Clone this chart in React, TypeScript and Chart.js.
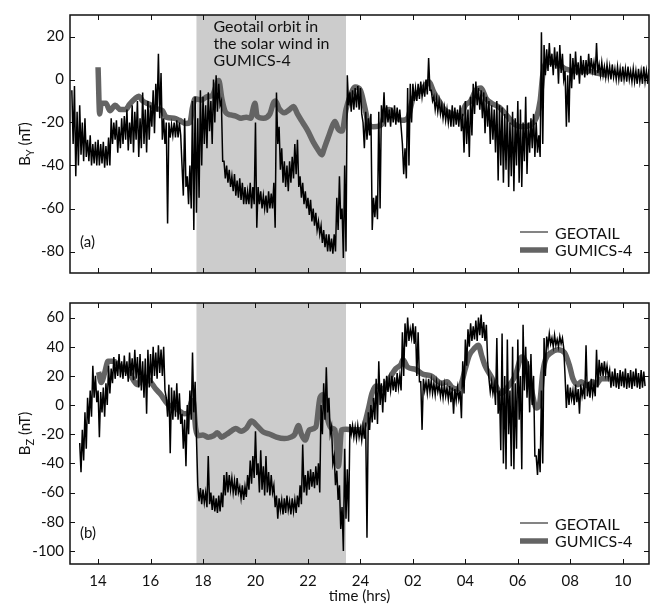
import React, { useEffect, useRef } from "react";
import { Chart, registerables } from "chart.js";

Chart.register(...registerables);

const FONT = "Lato, 'Open Sans', sans-serif";

// ---- axes / ticks ----
const X_MIN = 12.93;
const X_MAX = 35.0;
const X_TICKS = [14, 16, 18, 20, 22, 24, 26, 28, 30, 32, 34];
const X_TICK_LABELS = ["14", "16", "18", "20", "22", "24", "02", "04", "06", "08", "10"];
const BY_TICKS = [-80, -60, -40, -20, 0, 20];
const BZ_TICKS = [-100, -80, -60, -40, -20, 0, 20, 40, 60];
const SHADE_RANGE = [17.75, 23.45];
const ANNOTATION = ["Geotail orbit in", "the solar wind in", "GUMICS-4"];
const LEGEND_LABELS = ["GEOTAIL", "GUMICS-4"];

// ---- GEOTAIL (read every 0.1 h: upper / lower edge of the noisy trace) ----
const GEO_STEP = 0.1;
const GEO_BY_START = 13.0;
const GEO_BY_HI = [
  -5, -3, -15, -12, -20, -18, -28, -26, -30, -29,
  -28, -30, -29, -31, -27, -18, -20, -19, -22, -18,
  -17, -14, -20, -12, -15, -10, -18, -6, -14, -10,
  -12, -5, -2, 12, 3, -18, -20, -20, -21, -20,
  -19, -20, -40, -18, -45, -40, -10, -8, -18, -5,
  -8, -12, -6, -10, 0, 2, -2, -10, -38, -40,
  -42, -45, -44, -47, -46, -48, -50, -52, -48, -50,
  -20, -50, -52, -54, -54, -52, -53, -48, -6, -22,
  -32, -38, -40, -38, -36, -30, -28, -45, -48, -52,
  -55, -56, -60, -62, -66, -68, -70, -72, -72, -74,
  -72, -55, -45, -60, -40, 2, -6, -5, -4, -3,
  -4, -20, -15, -18, -16, -55, -54, -15, -12, -6,
  -12, -14, -13, -12, -13, -14, -30, -32, -4, -2,
  -2, -4, -2, -1, -3, 0, 10, -5, -8, -9,
  -10, -12, -13, -14, -14, -12, -13, -14, -12, -16,
  -10, -14, -8, -2, -1, -4, -5, -6, -8, -10,
  -12, -14, -10, -12, -13, -16, -12, -20, -15, -18,
  -10, -14, -20, -8, -20, -18, -16, -20, -26, 22,
  16, 14, 17, 12, 15, 13, 16, 12, 4, 2,
  12, 10, 13, 8, 11, 9, 9, 12, 10, 8,
  17, 7, 8, 6, 7, 6, 7, 5, 6, 5,
  6, 5, 6, 4, 5, 4, 5, 4, 6, 4,
  5,
];
const GEO_BY_LO = [
  -30, -45, -40, -35, -38, -36, -38, -40, -39, -40,
  -40, -39, -41, -40, -40, -30, -28, -34, -32, -30,
  -28, -33, -30, -34, -28, -36, -32, -30, -34, -28,
  -22, -25, -15, -18, -28, -30, -67, -27, -26, -27,
  -27, -26, -54, -50, -58, -60, -70, -62, -55, -40,
  -30, -32, -24, -30, -20, -15, -12, -38, -46, -48,
  -50, -52, -54, -55, -56, -58, -58, -58, -60, -58,
  -69, -58, -60, -60, -62, -60, -60, -69, -30, -42,
  -48, -50, -52, -48, -46, -44, -50, -55, -58, -60,
  -63, -66, -68, -70, -72, -76, -78, -80, -80, -81,
  -80, -70, -65, -83, -80, -12, -15, -14, -13, -14,
  -16, -32, -28, -26, -70, -64, -65, -60, -20, -22,
  -20, -22, -20, -21, -20, -22, -44, -46, -40, -20,
  -10, -10, -9, -8, -8, -7, -5, -10, -14, -15,
  -16, -18, -19, -20, -22, -22, -21, -22, -24, -34,
  -30, -36, -26, -16, -12, -14, -18, -25, -22, -30,
  -28, -34, -47, -40, -48, -42, -50, -45, -52, -40,
  -48, -50, -38, -44, -34, -32, -36, -34, -36, -30,
  2, 4, 6, 2, 5, -2, 3, 0, -22, -20,
  -4, 0, 2, -2, 2, 1, 2, 3, 4, 2,
  3, 2, 2, 1, 1, 0, 1, 0, 0, -1,
  0, -1, 0, -1, -1, -2, -1, -2, -1, -2,
  -1,
];

const GEO_BZ_START = 13.3;
const GEO_BZ_HI = [
  -26, -17, -5, 5, 10, 27, 20,
  10, 9, 12, 15, 27, 25, 33, 30, 35, 30,
  34, 30, 36, 32, 38, 33, 35, 30, 32, 38,
  35, 40, 36, 41, 38, 40, 5, 14, 12, 10,
  15, 8, -6, -10, 0, 10, 36, 16, -55, -57,
  -58, -60, -35, -60, -62, -64, -62, -60, -48, -46,
  -48, -50, -52, -50, -56, -55, -56, -48, -38, -35,
  -18, -40, -31, -42, -35, -46, -48, -55, -62, -64,
  -65, -64, -62, -66, -64, -65, -62, -55, -27, -48,
  -45, -44, -46, -42, -40, 0, 15, 26, 5, -15,
  -35, -45, -55, -70, -30, -44, -13, -14, -15, -14,
  -16, -15, -12, -5, 0, 5, 18, 30, 15, 18,
  20, 18, 20, 19, 22, 20, 50, 56, 60, 52,
  56, 54, 50, 16, 18, 16, 18, 17, 15, 16,
  14, 13, 14, 12, 13, 12, 11, 12, 10, 30,
  45, 52, 56, 54, 58, 60, 62, 57, 55, 18,
  16, 14, 46, 10, 49, 20, 45, 10, 40, 15,
  45, 20, 55, 40, 30, 35, 20, -35, -30, 10,
  46, 47, 49, 46, 48, 45, 47, 46, 20, 14,
  12, 10, 14, 11, 14, 12, 41, 16, 18, 14,
  38, 31, 29, 30, 27, 24, 23, 25, 22, 24,
  23, 25, 22, 24, 23, 25, 22, 24, 23,
];
const GEO_BZ_LO = [
  -46, -38, -30, -13, -8, 5, 2,
  -22, -5, -8, 0, 8, 15, 18, 20, 19, 18,
  20, 16, 20, 17, 18, 12, 10, 5, -6, 12,
  15, 20, 18, 22, 20, 10, -8, -33, -10, -8,
  -10, -13, -30, -42, -20, -10, -5, -22, -66, -68,
  -67, -70, -68, -72, -73, -74, -73, -70, -62, -60,
  -58, -60, -62, -60, -64, -65, -63, -58, -54, -50,
  -48, -60, -58, -62, -60, -62, -60, -70, -78, -72,
  -75, -74, -72, -75, -73, -74, -70, -68, -60, -62,
  -58, -56, -57, -55, -60, -20, -10, -5, -20, -40,
  -55, -65, -85, -100, -78, -80, -20, -22, -23, -22,
  -24, -23, -91, -17, -12, -10, -13, 0, -5, 2,
  9, 10, 10, 9, 12, 10, 20, 40, 44, 46,
  42, 20, 16, -17, 10, 8, 9, 8, 7, 9,
  6, 5, 6, 4, 2, -6, 3, 4, -9, 8,
  27, 40, 44, 45, 44, 48, 46, 44, 30, 9,
  8, 0, -6, -31, -40, -44, -20, -42, -44, -30,
  -10, -44, 10, 5, -5, 0, -35, -48, -46, -40,
  20, 40, 42, 40, 41, 40, 42, 39, -2, 0,
  4, 0, 2, -6, 6, 4, 6, 5, 7, 6,
  12, 20, 20, 21, 19, 12, 13, 12, 11, 13,
  12, 11, 12, 11, 13, 12, 11, 12, 13,
];

// ---- GUMICS-4 ----
const GUM_BY_T = [
  14.0, 14.06, 14.12, 14.3, 14.45, 14.65, 14.85, 15.05, 15.2, 15.4, 15.55, 15.7, 15.95, 16.2, 16.45,
  16.6, 16.9, 17.1, 17.35, 17.5, 17.6, 17.7, 17.95, 18.15, 18.35, 18.5, 18.6, 18.72, 18.85, 19.05,
  19.25, 19.45, 19.65, 19.82, 19.92, 19.98, 20.06, 20.3, 20.55, 20.68, 20.76, 20.9, 21.1, 21.3, 21.45,
  21.6, 21.8, 22.0, 22.2, 22.4, 22.52, 22.65, 22.8, 22.95, 23.03, 23.15, 23.3, 23.45, 23.6, 23.8,
  24.0, 24.15, 24.3, 24.5, 24.8, 24.95, 25.1, 25.3, 25.6, 25.8, 26.0, 26.2, 26.4, 26.6, 26.8,
  27.0, 27.2, 27.5, 27.8, 28.0, 28.2, 28.4, 28.6, 28.8, 29.0, 29.3, 29.6, 29.9, 30.2, 30.5,
  30.7, 30.85, 30.95, 31.1, 31.4, 31.8, 32.2, 32.6, 33.0, 33.4,
];
const GUM_BY = [
  5.7, -16, -11, -11, -14.5, -12, -14, -14, -11.5, -9, -7.8, -10, -11.5, -13.5, -14.5,
  -17.5, -18, -19, -20.5, -20, -13, -9, -9.5, -8, -7.5, -3, -0.5, -9, -15, -16.5,
  -17, -18, -17.5, -18, -13, -11, -17, -18, -16, -11, -10, -13.5, -15.5, -14, -12.5,
  -16, -20, -24, -29, -33, -35, -31, -26, -21, -19.5, -23, -24, -14, -8, -3.5,
  -5, -12, -20, -22, -21, -15, -14, -17, -19, -18, -9, -6, -4, -1, -6,
  -10, -14, -16, -17, -12, -10, -5, -4, -9, -11, -13, -17, -21, -22, -21,
  -18, -10, 2, 8, 8, 5, 4, 4, 3, 2,
];
const GUM_BZ_T = [
  14.02, 14.12, 14.25, 14.38, 14.6, 14.8, 15.0, 15.2, 15.35, 15.5, 15.65, 15.8, 16.0, 16.2, 16.4,
  16.55, 16.7, 16.9, 17.1, 17.3, 17.45, 17.55, 17.62, 17.72, 17.8, 18.0, 18.2, 18.4, 18.55, 18.7,
  18.9, 19.1, 19.25, 19.45, 19.65, 19.85, 20.05, 20.3, 20.55, 20.8, 21.1, 21.35, 21.5, 21.63, 21.75,
  21.89, 22.05, 22.3, 22.46, 22.58, 22.75, 22.9, 23.03, 23.16, 23.28, 23.45, 23.7, 24.0, 24.12, 24.3,
  24.44, 24.6, 24.9, 25.1, 25.35, 25.55, 25.62, 25.8, 26.1, 26.4, 26.7, 26.9, 27.1, 27.3, 27.5,
  27.7, 27.85, 28.0, 28.15, 28.35, 28.5, 28.62, 28.75, 29.0, 29.2, 29.35, 29.6, 29.9, 30.15, 30.35,
  30.55, 30.7, 30.82, 30.95, 31.05, 31.27, 31.52, 31.78, 31.97, 32.1, 32.29, 32.41, 32.67, 32.86, 32.98,
  33.17, 33.5,
];
const GUM_BZ = [
  22.7, 15.5, 22, 30, 30, 27, 25, 22, 17, 14, 18, 19, 16, 11, 7,
  3, 0, -1, -4, -6, -5, 2, 3, -16, -21, -20.5, -22, -21, -19, -22,
  -20, -17.5, -16, -18, -16, -11, -14, -18.5, -20, -22, -23, -22, -20, -14, -20,
  -24, -17, -15, 5, 7, -10, -16, -17, -42, -17, -16.5, -17, -17, -15, -3,
  8, 13, 11, 18, 25, 28, 31, 26, 24.5, 21, 20, 17, 15, 16, 12,
  11, 15, 25, 34, 39, 41, 34, 27, 19, 12, 8, 12, 20, 33, 27,
  8, -2, 0, 22, 31, 36, 38, 36, 27, 18, 14, 16, 13, 16, 14,
  18, 18,
];

type Pt = { x: number; y: number };

// Each 0.1 h bin is drawn as a swing from its upper to its lower edge.
function buildGeo(start: number, hi: number[], lo: number[]): Pt[] {
  const pts: Pt[] = [];
  const h = GEO_STEP / 2;
  for (let i = 0; i < hi.length; i++) {
    const t = start + i * GEO_STEP;
    pts.push({ x: t, y: hi[i] });
    pts.push({ x: t + h, y: lo[i] });
  }
  return pts;
}

function buildPairs(ts: number[], vs: number[]): Pt[] {
  return ts.map((t, i) => ({ x: t, y: vs[i] }));
}

interface PanelCfg {
  top: number;
  height: number;
  padTop: number;
  xAxisHeight: number;
  yMin: number;
  yMax: number;
  yTicks: number[];
  sub: string;
  letter: string;
  showX: boolean;
  annotate: boolean;
  geo: Pt[];
  gum: Pt[];
}

function makeDecor(cfg: PanelCfg) {
  return {
    id: "decor",
    beforeDatasetsDraw(chart: any) {
      const { ctx, chartArea: a, scales } = chart;
      const xs = scales.x;
      const ys = scales.y;
      ctx.save();
      const x0 = xs.getPixelForValue(SHADE_RANGE[0]);
      const x1 = xs.getPixelForValue(SHADE_RANGE[1]);
      ctx.fillStyle = "#cccccc";
      ctx.fillRect(x0, a.top, x1 - x0, a.bottom - a.top);
      ctx.strokeStyle = "#111";
      ctx.lineWidth = 1;
      const tl = 5;
      ctx.beginPath();
      for (const v of X_TICKS) {
        const px = Math.round(xs.getPixelForValue(v)) + 0.5;
        ctx.moveTo(px, a.top);
        ctx.lineTo(px, a.top + tl);
        ctx.moveTo(px, a.bottom);
        ctx.lineTo(px, a.bottom - tl);
      }
      for (const v of cfg.yTicks) {
        const py = Math.round(ys.getPixelForValue(v)) + 0.5;
        ctx.moveTo(a.left, py);
        ctx.lineTo(a.left + tl, py);
        ctx.moveTo(a.right, py);
        ctx.lineTo(a.right - tl, py);
      }
      ctx.stroke();
      if (cfg.annotate) {
        ctx.fillStyle = "#111";
        ctx.font = `16px ${FONT}`;
        ctx.textBaseline = "alphabetic";
        ctx.textAlign = "left";
        ANNOTATION.forEach((line, i) => {
          ctx.fillText(line, x0 + 17, a.top + 17 + i * 17);
        });
      }
      ctx.restore();
    },
    afterDraw(chart: any) {
      const { ctx, chartArea: a } = chart;
      ctx.save();
      ctx.strokeStyle = "#111";
      ctx.lineWidth = 1.5;
      ctx.strokeRect(a.left, a.top, a.right - a.left, a.bottom - a.top);
      // y title with subscript
      const cy = (a.top + a.bottom) / 2;
      ctx.translate(25, cy);
      ctx.rotate(-Math.PI / 2);
      ctx.fillStyle = "#111";
      ctx.textBaseline = "alphabetic";
      ctx.textAlign = "left";
      const mainFont = `15px ${FONT}`;
      const subFont = `11px ${FONT}`;
      ctx.font = mainFont;
      const wB = ctx.measureText("B").width;
      const wRest = ctx.measureText(" (nT)").width;
      ctx.font = subFont;
      const wS = ctx.measureText(cfg.sub).width;
      let x = -(wB + wS + wRest) / 2;
      ctx.font = mainFont;
      ctx.fillText("B", x, 5);
      x += wB;
      ctx.font = subFont;
      ctx.fillText(cfg.sub, x, 8.5);
      x += wS;
      ctx.font = mainFont;
      ctx.fillText(" (nT)", x, 5);
      ctx.restore();

      ctx.save();
      ctx.fillStyle = "#111";
      ctx.font = `15px ${FONT}`;
      ctx.textBaseline = "middle";
      ctx.textAlign = "left";
      ctx.fillText(cfg.letter, a.left + 10, a.bottom - 31);
      // legend
      ctx.font = `16px ${FONT}`;
      const lx0 = a.right - 129;
      const lx1 = a.right - 101;
      const ly0 = a.bottom - 41;
      const ly1 = a.bottom - 23;
      ctx.strokeStyle = "#333";
      ctx.lineWidth = 1.2;
      ctx.beginPath();
      ctx.moveTo(lx0, ly0);
      ctx.lineTo(lx1, ly0);
      ctx.stroke();
      ctx.strokeStyle = "#646464";
      ctx.lineWidth = 5.5;
      ctx.beginPath();
      ctx.moveTo(lx0, ly1);
      ctx.lineTo(lx1, ly1);
      ctx.stroke();
      ctx.fillText(LEGEND_LABELS[0], a.right - 94, ly0 + 2);
      ctx.fillText(LEGEND_LABELS[1], a.right - 94, ly1 + 1);
      ctx.restore();
    },
  };
}

function Panel({ cfg }: { cfg: PanelCfg }) {
  const ref = useRef<HTMLCanvasElement>(null);
  useEffect(() => {
    if (!ref.current) return;
    Chart.defaults.font.family = FONT;
    const chart = new Chart(ref.current, {
      type: "line",
      data: {
        datasets: [
          {
            label: LEGEND_LABELS[0],
            data: cfg.geo,
            borderColor: "#000",
            borderWidth: 1.5,
            pointRadius: 0,
            tension: 0,
            borderJoinStyle: "miter",
          },
          {
            label: LEGEND_LABELS[1],
            data: cfg.gum,
            borderColor: "#646464",
            borderWidth: 5.5,
            pointRadius: 0,
            cubicInterpolationMode: "monotone",
            borderJoinStyle: "round",
          },
        ],
      },
      options: {
        responsive: false,
        animation: false,
        layout: { padding: { top: cfg.padTop, right: 6, left: 0, bottom: 0 } },
        plugins: { legend: { display: false }, tooltip: { enabled: false } },
        elements: { point: { radius: 0 } },
        scales: {
          x: {
            type: "linear",
            min: X_MIN,
            max: X_MAX,
            grid: { display: false, drawTicks: false },
            border: { display: false },
            afterBuildTicks: (s: any) => {
              s.ticks = X_TICKS.map((v) => ({ value: v }));
            },
            ticks: {
              display: cfg.showX,
              padding: 8,
              autoSkip: false,
              maxRotation: 0,
              color: "#111",
              font: { size: 15 },
              callback: (v: any) => {
                const i = X_TICKS.indexOf(Number(v));
                return i >= 0 ? X_TICK_LABELS[i] : "";
              },
            },
            title: {
              display: cfg.showX,
              text: "time (hrs)",
              color: "#111",
              font: { size: 15 },
              padding: { top: 0, bottom: 0 },
            },
            afterFit: (s: any) => {
              s.height = cfg.xAxisHeight;
            },
          },
          y: {
            type: "linear",
            min: cfg.yMin,
            max: cfg.yMax,
            grid: { display: false, drawTicks: false },
            border: { display: false },
            afterBuildTicks: (s: any) => {
              s.ticks = cfg.yTicks.map((v) => ({ value: v }));
            },
            ticks: { padding: 6, color: "#111", font: { size: 15 } },
            afterFit: (s: any) => {
              s.width = 70;
            },
          },
        },
      } as any,
      plugins: [makeDecor(cfg)],
    });
    return () => chart.destroy();
  }, []);
  return (
    <canvas
      ref={ref}
      width={655}
      height={cfg.height}
      style={{ position: "absolute", left: 0, top: cfg.top, width: 655, height: cfg.height }}
    />
  );
}

const TOP_PANEL: PanelCfg = {
  top: 0,
  height: 288,
  padTop: 8,
  xAxisHeight: 10,
  yMin: -90,
  yMax: 30,
  yTicks: BY_TICKS,
  sub: "Y",
  letter: "(a)",
  showX: false,
  annotate: true,
  geo: buildGeo(GEO_BY_START, GEO_BY_HI, GEO_BY_LO),
  gum: buildPairs(GUM_BY_T, GUM_BY),
};

const BOTTOM_PANEL: PanelCfg = {
  top: 288,
  height: 317,
  padTop: 7.5,
  xAxisHeight: 41,
  yMin: -109,
  yMax: 70,
  yTicks: BZ_TICKS,
  sub: "Z",
  letter: "(b)",
  showX: true,
  annotate: false,
  geo: buildGeo(GEO_BZ_START, GEO_BZ_HI, GEO_BZ_LO),
  gum: buildPairs(GUM_BZ_T, GUM_BZ),
};

export default function App() {
  return (
    <div style={{ position: "absolute", left: 0, top: 0, width: 655, height: 605, background: "#fff" }}>
      <Panel cfg={TOP_PANEL} />
      <Panel cfg={BOTTOM_PANEL} />
    </div>
  );
}
